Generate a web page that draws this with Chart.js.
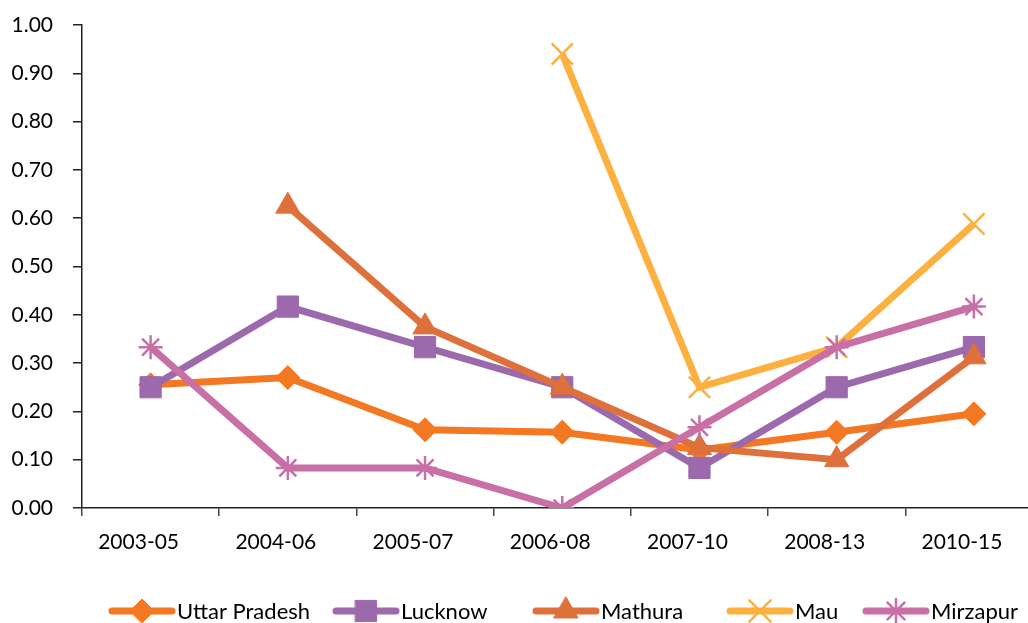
<!DOCTYPE html>
<html>
<head>
<meta charset="utf-8">
<script src="https://cdn.jsdelivr.net/npm/chart.js@4/dist/chart.umd.min.js"></script>
<style>
  html, body { margin: 0; padding: 0; background: #fff; overflow: hidden; }
  #wrap { width: 1060px; height: 623px; }
</style>
</head>
<body>
<div id="wrap"><canvas id="myChart" width="1060" height="623"></canvas></div>
<script>
// data
var periods      = ['2003-05', '2004-06', '2005-07', '2006-08', '2007-10', '2008-13', '2010-15'];
var uttarPradesh = [0.255, 0.27, 0.162, 0.157, 0.12, 0.157, 0.195];
var lucknow      = [0.25, 0.417, 0.333, 0.25, 0.083, 0.25, 0.333];
var mathura      = [null, 0.625, 0.375, 0.25, 0.125, 0.10, 0.313];
var mau          = [null, null, null, 0.94, 0.25, 0.333, 0.588];
var mirzapur     = [0.333, 0.083, 0.083, 0.0, 0.167, 0.333, 0.417];
var yTicks       = [0, 0.1, 0.2, 0.3, 0.4, 0.5, 0.6, 0.7, 0.8, 0.9, 1.0];

var FONT = 'Lato';

function series(label, values, color, style, radius, order){
    return {
        label: label,
        data: values,
        borderColor: color,
        backgroundColor: color,
        pointBackgroundColor: color,
        pointBorderColor: color,
        borderWidth: 7,
        pointStyle: style,
        pointRadius: radius,
        pointHoverRadius: radius,
        pointBorderWidth: (style == 'crossRot' || style == 'star') ? 2.5 : 1,
        spanGaps: false,
        tension: 0,
        order: order
    };
}

var data = {
    labels: periods,
    datasets: [
        series('Uttar Pradesh', uttarPradesh, 'rgb(244, 119, 33)', 'rectRot', 12, 5),
        series('Lucknow',       lucknow,      'rgb(155, 105, 172)', 'rect', 15, 4),
        series('Mathura',       mathura,      'rgb(222, 112, 60)', 'triangle', 14, 3),
        series('Mau',           mau,          'rgb(251, 176, 64)', 'crossRot', 15, 2),
        series('Mirzapur',      mirzapur,     'rgb(200, 111, 166)', 'star', 12, 1),
    ]
};

// legend drawn by hand: line with marker, then the name
var legendSlots = [108, 332, 532, 726, 862];
var lineLegend = {
    id: 'lineLegend',
    afterDraw: function(chart){
        var ctx = chart.ctx;
        var y = 611;
        ctx.save();
        chart.data.datasets.forEach(function(ds, i){
            var x0 = legendSlots[i];
            ctx.strokeStyle = ds.borderColor;
            ctx.lineWidth = 7;
            ctx.lineCap = 'round';
            ctx.beginPath();
            ctx.moveTo(x0 + 4, y);
            ctx.lineTo(x0 + 64, y);
            ctx.stroke();
            ctx.fillStyle = ds.backgroundColor;
            ctx.lineWidth = ds.pointBorderWidth;
            Chart.helpers.drawPoint(ctx, {
                pointStyle: ds.pointStyle,
                radius: ds.pointRadius,
                rotation: 0,
                borderWidth: ds.pointBorderWidth
            }, x0 + 34, y);
            ctx.fillStyle = '#000';
            ctx.font = '22px ' + FONT;
            ctx.textBaseline = 'middle';
            ctx.textAlign = 'left';
            ctx.fillText(ds.label, x0 + 69, y + 1);
        });
        ctx.restore();
    }
};

var config = {
    type: 'line',
    data: data,
    options: {
        responsive: false,
        animation: false,
        layout: { padding: { top: 25, right: 1, left: 0, bottom: 0 } },
        plugins: {
            legend: { display: false },
            tooltip: { enabled: false }
        },
        scales: {
            x: {
                offset: true,
                grid: { offset: true, drawOnChartArea: false, tickLength: 8, color: '#444', lineWidth: 1.5 },
                border: { color: '#222', width: 1.5 },
                ticks: { color: '#000', font: { family: FONT, size: 21 }, padding: 14, maxRotation: 0, labelOffset: -12 },
                afterFit: function(scale){ scale.height = 115; }
            },
            y: {
                min: 0,
                max: 1,
                afterBuildTicks: function(scale){
                    scale.ticks = yTicks.map(function(v){ return { value: v }; });
                },
                grid: { drawOnChartArea: false, tickLength: 9, color: '#222', lineWidth: 1.5 },
                border: { color: '#222', width: 1.5 },
                ticks: {
                    color: '#000',
                    font: { family: FONT, size: 21 },
                    padding: 20,
                    callback: function(v){ return Number(v).toFixed(2); }
                },
                afterFit: function(scale){
                    scale.width = 82;
                    scale.paddingTop = 0;
                    scale.paddingBottom = 0;
                }
            }
        }
    },
    plugins: [lineLegend]
};

var myChart = new Chart(document.getElementById('myChart'), config);
</script>
</body>
</html>
